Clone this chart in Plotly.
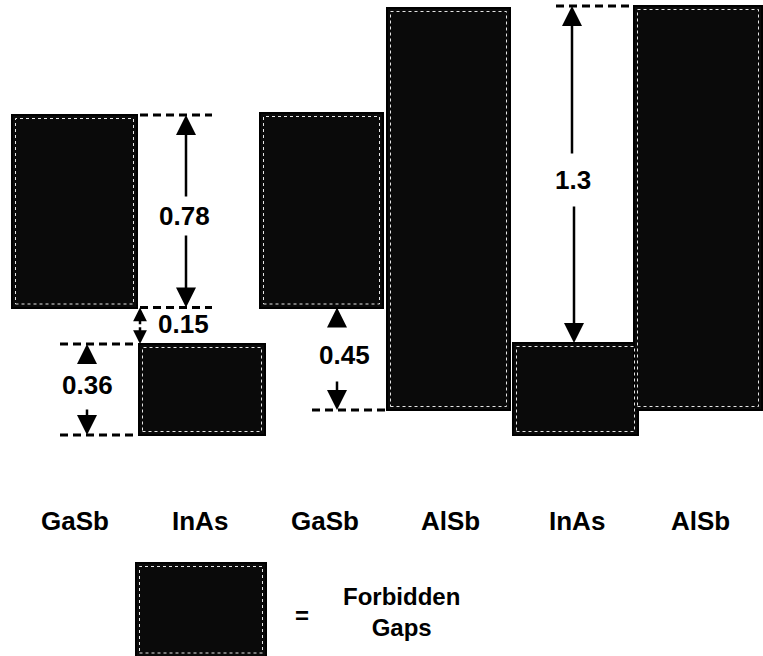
import plotly.graph_objects as go

# ---- data (energies in eV) ----
materials = ["GaSb", "InAs", "GaSb", "AlSb", "InAs", "AlSb"]
band_bottom = [0.51, 0.00, 0.51, 0.10, 0.00, 0.10]   # valence-band edge
band_top = [1.28, 0.364, 1.288, 1.708, 0.368, 1.716]  # conduction-band edge
offset_labels = ["0.78", "0.15", "0.36", "0.45", "1.3"]
legend_text = "Forbidden<br>Gaps"

# ---- layout helpers (pixel geometry of the page) ----
W, H = 763, 656
PX_PER_EV = 250.0
P0 = 435.0  # pixel row of E = 0


def E(p):
    return (P0 - p) / PX_PER_EV


def P(e):
    return P0 - e * PX_PER_EV


x_left = [12, 139, 260, 387, 513, 634]
x_right = [137, 265, 383, 510, 638, 762]
centers = [(a + b) / 2 for a, b in zip(x_left, x_right)]
widths = [b - a for a, b in zip(x_left, x_right)]
label_x = [75, 200, 325, 450, 577, 700]

fig = go.Figure()

gaps = [t - b for t, b in zip(band_top, band_bottom)]
fig.add_trace(go.Bar(
    x=centers, y=gaps, base=band_bottom, width=widths,
    marker=dict(color="#0a0a0a", line=dict(color="#000000", width=2)),
    hoverinfo="skip", showlegend=False,
))

shapes = []
ann = []
FONT = dict(family="Liberation Sans, Arial, sans-serif", size=26, color="black")

# inner dotted borders
for a, b, lo, hi in zip(x_left, x_right, band_bottom, band_top):
    shapes.append(dict(type="rect", xref="x", yref="y",
                       x0=a + 3.5, x1=b - 3.5, y0=E(P(lo) - 3.5), y1=E(P(hi) + 3.5),
                       line=dict(color="#e6e6e6", width=1, dash="dot")))


def dash(x0, x1, e):
    shapes.append(dict(type="line", xref="x", yref="y", x0=x0, x1=x1, y0=e, y1=e,
                       line=dict(color="black", width=3, dash="8px,5px")))


dash(140, 212, band_top[0])
dash(140, 212, band_bottom[0])
dash(60, 138, band_top[1])
dash(60, 138, band_bottom[1])
dash(312, 388, band_bottom[3])
dash(556, 632, band_top[5])


def arrow(x, e_tail, e_head, size=1.6):
    ann.append(dict(x=x, y=e_head, ax=x, ay=e_tail, xref="x", yref="y",
                    axref="x", ayref="y", text="", showarrow=True,
                    arrowhead=2, arrowsize=size, arrowwidth=2.5,
                    arrowcolor="black", standoff=0, startstandoff=0))


def label(x, e, t, size=26):
    ann.append(dict(x=x, y=e, xref="x", yref="y", text="<b>%s</b>" % t,
                    showarrow=False, font=dict(FONT, size=size)))


# 0.78 : GaSb gap
arrow(186, E(198), band_top[0])
arrow(186, E(234), band_bottom[0])
label(184, E(216), offset_labels[0])
# 0.15 : GaSb valence to InAs conduction
mid = (band_bottom[0] + band_top[1]) / 2
arrow(140, mid, band_bottom[0], size=1.1)
arrow(140, mid, band_top[1], size=1.1)
label(183, E(324), offset_labels[1])
# 0.36 : InAs gap
arrow(87, E(362), band_top[1])
arrow(87, E(408), band_bottom[1])
label(87, E(385), offset_labels[2])
# 0.45 : GaSb valence to AlSb valence
arrow(337, E(328), band_bottom[2])
arrow(337, E(380), band_bottom[3])
label(344, E(355), offset_labels[3])
# 1.3 : AlSb conduction to InAs conduction
arrow(572, E(155), band_top[5])
arrow(574, E(205), band_top[4])
label(573, E(180), offset_labels[4])

# material labels
for x, m in zip(label_x, materials):
    label(x, E(521), m)

# legend swatch
shapes.append(dict(type="rect", xref="x", yref="y", x0=136, x1=266,
                   y0=E(660), y1=E(563), fillcolor="#0a0a0a",
                   line=dict(color="black", width=2)))
shapes.append(dict(type="rect", xref="x", yref="y", x0=139.5, x1=262.5,
                   y0=E(653), y1=E(566.5),
                   line=dict(color="#e6e6e6", width=1, dash="dot")))
label(302, E(615), "=", size=24)
label(401, E(612), legend_text, size=24)

fig.update_layout(
    width=W, height=H, margin=dict(l=0, r=0, t=0, b=0),
    paper_bgcolor="white", plot_bgcolor="white",
    barmode="overlay", bargap=0,
    xaxis=dict(range=[0, W], visible=False, fixedrange=True),
    yaxis=dict(range=[E(H), E(0)], visible=False, fixedrange=True),
    shapes=shapes, annotations=ann, showlegend=False,
)

fig.write_html("out.html")
